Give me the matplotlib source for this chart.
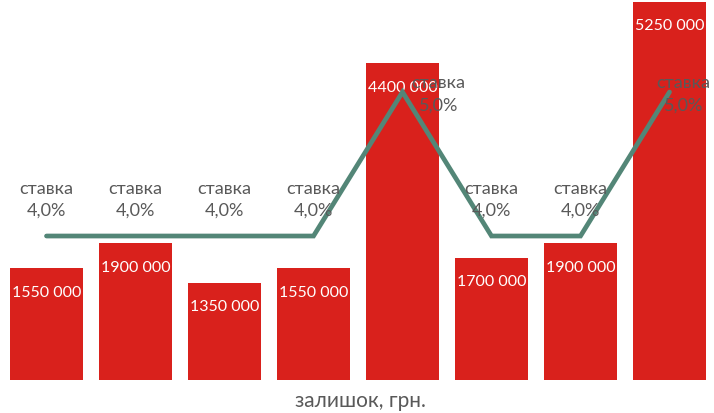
import matplotlib
matplotlib.use('Agg')
import matplotlib.pyplot as plt

plt.rcParams['font.family'] = ['Lato', 'DejaVu Sans']

# дані
balances = [1550000, 1900000, 1350000, 1550000, 4400000, 1700000, 1900000, 5250000]
rates = [4.0, 4.0, 4.0, 4.0, 5.0, 4.0, 4.0, 5.0]
rate_word = 'ставка'
xlabel = 'залишок, грн.'

bar_color = '#D9211C'
line_color = '#538677'
text_gray = '#595959'


def fmt_money(v):
    return f'{v // 1000} {v % 1000:03d}'


fig = plt.figure(figsize=(7.14, 4.14), dpi=100)
ax = fig.add_axes([2 / 714, 33 / 414, 712 / 714, 381 / 414])
x = list(range(len(balances)))

bars = ax.bar(x, balances, width=0.82, color=bar_color)
ax.set_xlim(-0.5, len(balances) - 0.5)
ax.set_ylim(0, 5.288e6)
for xi, v in zip(x, balances):
    ax.annotate(fmt_money(v), (xi, v), xytext=(0, -17), textcoords='offset points',
                ha='center', va='center', color='white', fontsize=11.5)

ax2 = ax.twinx()
ax2.plot(x, rates, color=line_color, lw=3.4, solid_capstyle='round', solid_joinstyle='miter')
ax2.set_ylim(3.0, 5.646)
for xi, r in zip(x, rates):
    lbl = f'{rate_word}\n{r:.1f}%'.replace('.', ',')
    if r > 4.5:
        dx = 26 if xi < len(x) - 1 else 10
        ax2.annotate(lbl, (xi, r), xytext=(dx, -1), textcoords='offset points',
                     ha='center', va='center', color=text_gray, fontsize=13,
                     linespacing=1.45, annotation_clip=False)
    else:
        ax2.annotate(lbl, (xi, r), xytext=(0, 27), textcoords='offset points',
                     ha='center', va='center', color=text_gray, fontsize=13,
                     linespacing=1.45)

for a in (ax, ax2):
    for s in a.spines.values():
        s.set_visible(False)
    a.set_yticks([])
ax.set_xticks([])

fig.text(360 / 714, 13 / 414, xlabel, ha='center', va='center', color=text_gray, fontsize=15)

fig.savefig('out.png', dpi=100)
